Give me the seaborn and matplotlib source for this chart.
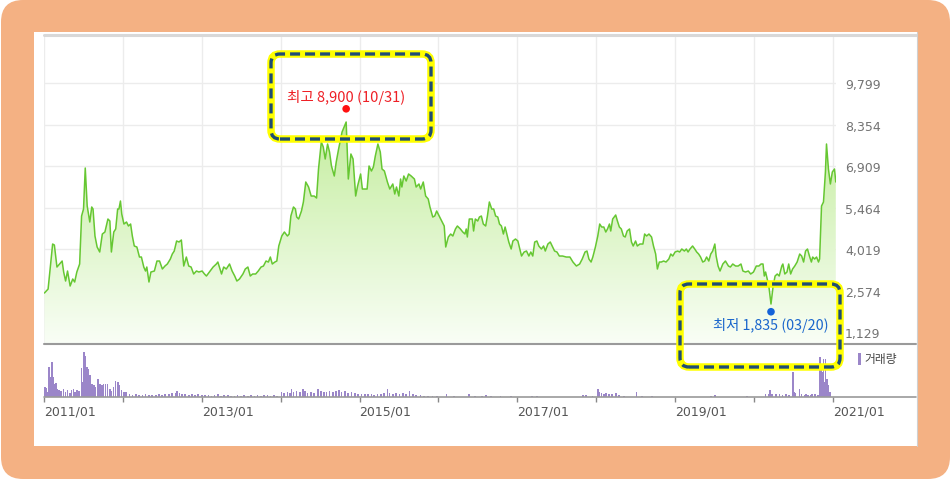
import numpy as np
import pandas as pd
import matplotlib
matplotlib.use("Agg")
import matplotlib.pyplot as plt
import matplotlib.dates as mdates
from matplotlib.patches import Rectangle, FancyBboxPatch
from matplotlib.lines import Line2D
from matplotlib.transforms import IdentityTransform
from matplotlib.colors import LinearSegmentedColormap
import seaborn as sns

# 종가 (주간 근사)
price_dates = [
    "2011-01-03", "2011-01-20", "2011-01-28", "2011-02-10", "2011-02-18", "2011-03-02", "2011-03-14",
    "2011-03-26", "2011-04-02", "2011-04-11", "2011-04-20", "2011-05-02", "2011-05-14", "2011-05-23",
    "2011-06-02", "2011-06-15", "2011-06-24", "2011-07-03", "2011-07-11", "2011-07-20", "2011-08-01",
    "2011-08-10", "2011-08-16", "2011-08-25", "2011-09-04", "2011-09-16", "2011-09-28", "2011-10-10",
    "2011-10-24", "2011-11-02", "2011-11-09", "2011-11-20", "2011-11-29", "2011-12-08", "2011-12-14",
    "2011-12-21", "2011-12-27",
    "2012-01-06", "2012-01-18", "2012-01-27", "2012-02-06", "2012-02-14", "2012-02-23", "2012-03-06",
    "2012-03-18", "2012-03-27", "2012-04-07", "2012-04-15", "2012-04-21", "2012-05-01", "2012-05-10",
    "2012-05-26", "2012-06-07", "2012-06-19", "2012-07-02", "2012-07-14", "2012-07-25", "2012-08-08",
    "2012-08-17", "2012-08-26", "2012-09-06", "2012-09-17", "2012-09-28", "2012-10-09", "2012-10-21",
    "2012-11-01", "2012-11-12", "2012-11-24", "2012-12-07", "2012-12-18",
    "2013-01-02", "2013-01-13", "2013-01-22", "2013-02-08", "2013-02-22", "2013-03-09", "2013-03-16",
    "2013-04-02", "2013-04-12", "2013-04-24", "2013-05-09", "2013-05-21", "2013-06-02", "2013-06-12",
    "2013-06-24", "2013-07-10", "2013-07-21", "2013-08-02", "2013-08-13", "2013-08-24", "2013-09-07",
    "2013-09-19", "2013-10-02", "2013-10-13", "2013-10-25", "2013-11-05", "2013-11-14", "2013-11-23",
    "2013-12-05", "2013-12-14", "2013-12-23",
    "2014-01-06", "2014-01-18", "2014-02-01", "2014-02-09", "2014-02-17", "2014-03-01", "2014-03-10",
    "2014-03-16", "2014-03-25", "2014-04-07", "2014-04-16", "2014-04-27", "2014-05-10", "2014-05-22",
    "2014-06-05", "2014-06-16", "2014-06-25", "2014-07-08", "2014-07-17", "2014-07-26", "2014-08-06",
    "2014-08-15", "2014-08-24", "2014-09-06", "2014-09-15", "2014-09-26", "2014-10-12", "2014-10-31",
    "2014-11-05", "2014-11-10", "2014-11-16", "2014-11-22", "2014-12-02", "2014-12-14", "2014-12-23",
    "2015-01-06", "2015-01-14", "2015-01-25", "2015-02-05", "2015-02-14", "2015-02-25", "2015-03-06",
    "2015-03-15", "2015-03-27", "2015-04-07", "2015-04-15", "2015-04-26", "2015-05-10", "2015-05-21",
    "2015-06-04", "2015-06-13", "2015-06-21", "2015-07-02", "2015-07-10", "2015-07-16", "2015-07-25",
    "2015-08-05", "2015-08-16", "2015-08-28", "2015-09-12", "2015-09-20", "2015-10-03", "2015-10-11",
    "2015-10-23", "2015-11-03", "2015-11-15", "2015-11-23", "2015-12-06", "2015-12-15", "2015-12-24",
    "2016-01-07", "2016-01-19", "2016-01-28", "2016-02-04", "2016-02-16", "2016-02-27", "2016-03-08",
    "2016-03-20", "2016-03-29", "2016-04-12", "2016-04-23", "2016-05-03", "2016-05-09", "2016-05-14",
    "2016-05-23", "2016-06-06", "2016-06-12", "2016-06-20", "2016-07-01", "2016-07-09", "2016-07-18",
    "2016-07-27", "2016-08-07", "2016-08-15", "2016-08-24", "2016-09-04", "2016-09-13", "2016-09-22",
    "2016-10-02", "2016-10-10", "2016-10-19", "2016-10-28", "2016-11-05", "2016-11-13", "2016-11-22",
    "2016-12-03", "2016-12-11", "2016-12-23",
    "2017-01-03", "2017-01-12", "2017-01-20", "2017-02-01", "2017-02-12", "2017-02-23", "2017-03-04",
    "2017-03-13", "2017-03-22", "2017-04-01", "2017-04-10", "2017-04-22", "2017-05-02", "2017-05-10",
    "2017-05-22", "2017-06-02", "2017-06-11", "2017-06-22", "2017-07-03", "2017-07-14", "2017-07-29",
    "2017-08-15", "2017-09-01", "2017-09-15", "2017-10-01", "2017-10-16", "2017-10-28", "2017-11-10",
    "2017-11-19", "2017-11-28", "2017-12-08", "2017-12-16", "2017-12-28",
    "2018-01-08", "2018-01-17", "2018-01-26", "2018-02-05", "2018-02-14", "2018-02-22", "2018-03-03",
    "2018-03-09", "2018-03-18", "2018-04-01", "2018-04-09", "2018-04-18", "2018-04-27", "2018-05-07",
    "2018-05-15", "2018-05-24", "2018-06-04", "2018-06-13", "2018-06-21", "2018-07-02", "2018-07-10",
    "2018-07-22", "2018-08-05", "2018-08-13", "2018-08-22", "2018-09-02", "2018-09-14", "2018-09-23",
    "2018-10-03", "2018-10-11", "2018-10-20", "2018-10-29", "2018-11-09", "2018-11-20", "2018-12-03",
    "2018-12-12", "2018-12-21",
    "2019-01-01", "2019-01-13", "2019-01-22", "2019-02-01", "2019-02-13", "2019-02-22", "2019-03-02",
    "2019-03-11", "2019-03-23", "2019-04-02", "2019-04-11", "2019-04-20", "2019-04-29", "2019-05-09",
    "2019-05-18", "2019-05-27", "2019-06-06", "2019-06-15", "2019-06-24", "2019-07-04", "2019-07-10",
    "2019-07-19", "2019-07-28", "2019-08-10", "2019-08-22", "2019-09-05", "2019-09-14", "2019-09-25",
    "2019-10-08", "2019-10-20", "2019-11-02", "2019-11-11", "2019-11-23", "2019-12-06", "2019-12-17",
    "2019-12-30",
    "2020-01-12", "2020-01-24", "2020-02-03", "2020-02-12", "2020-02-18", "2020-02-24", "2020-03-10",
    "2020-03-20", "2020-03-30", "2020-04-08", "2020-04-18", "2020-04-27", "2020-05-09", "2020-05-14",
    "2020-05-23", "2020-06-02", "2020-06-10", "2020-06-19", "2020-06-28", "2020-07-08", "2020-07-19",
    "2020-07-31", "2020-08-09", "2020-08-18", "2020-08-27", "2020-09-05", "2020-09-14", "2020-09-23",
    "2020-09-29", "2020-10-08", "2020-10-17", "2020-10-26", "2020-10-31", "2020-11-09", "2020-11-18",
    "2020-11-27", "2020-12-02", "2020-12-11", "2020-12-20", "2020-12-29", "2021-01-08", "2021-01-14",
]
price_close = [
    2487, 2626, 3218, 4193, 4158, 3392, 3497, 3601, 3218, 2905, 3253, 2731, 2974, 2870,
    3218, 3497, 5168, 5412, 6839, 5517, 4959, 5482, 5412, 4472, 4089, 3915, 4541, 4611,
    5064, 4994, 3915, 4611, 4716, 5412, 5412, 5690, 5238,
    4889, 4959, 4820, 4889, 4472, 4124, 4089, 3740, 3740, 3392, 3253, 3392, 2870, 3218,
    3253, 3601, 3601, 3323, 3427, 3497, 3671, 3845, 3949, 4298, 4263, 4332, 3427, 3740,
    3427, 3392, 3149, 3253, 3218,
    3253, 3149, 3079, 3253, 3392, 3497, 3566, 3149, 3392, 3323, 3497, 3253, 3079, 2905,
    2974, 3149, 3323, 3392, 3079, 3149, 3149, 3253, 3392, 3427, 3601, 3566, 3740, 3497,
    3566, 3601, 4124,
    4472, 4611, 4472, 4541, 5168, 5482, 5412, 5133, 5064, 5343, 5656, 6352, 6178, 5864,
    5864, 5795, 6805, 7745, 7571, 7153, 7675, 7397, 6909, 6561, 7048, 7501, 8093, 8441,
    7397, 6456, 6909, 7327, 7153, 5864, 6213,
    6631, 6108, 6108, 6108, 6909, 6735, 6874, 7257, 7675, 7397, 6805, 6735, 6352, 6108,
    6283, 5934, 6178, 5864, 6456, 6178, 6561, 6387, 6631, 6561, 6456, 6178, 6283, 6108,
    6352, 5864, 5760, 5482, 5133, 5168, 5343,
    5133, 4959, 4820, 4089, 4437, 4541, 4472, 4716, 4820, 4716, 4611, 4541, 4716, 4437,
    5064, 5064, 4646, 5064, 4994, 5133, 5168, 4889, 4820, 5168, 5656, 5412, 5412, 5168,
    5133, 4889, 4820, 4541, 4785, 4541, 4263, 4019, 4298, 4367,
    4298, 4019, 3775, 3915, 3949, 3775, 3915, 3775, 4263, 4298, 4124, 4019, 4124, 3949,
    4193, 4263, 4124, 3949, 3915, 3775, 3775, 3740, 3740, 3566, 3427, 3497, 3671, 3915,
    3949, 3671, 3566, 3740, 4089,
    4472, 4889, 4785, 4785, 4611, 4716, 4889, 4646, 5064, 5203, 4994, 4785, 4716, 4472,
    4437, 4646, 4716, 4263, 4124, 4298, 4124, 4193, 4193, 4541, 4472, 4541, 4437, 4124,
    3845, 3323, 3566, 3566, 3601, 3566, 3671, 3845, 3775,
    3915, 3949, 3915, 4019, 3949, 4019, 3915, 4019, 4124, 4019, 3915, 3845, 3740, 3566,
    3601, 3740, 3601, 3845, 3949, 4193, 3775, 3427, 3253, 3497, 3601, 3427, 3392, 3497,
    3427, 3427, 3497, 3253, 3218, 3253, 3149, 3218,
    3427, 3427, 3497, 3497, 3079, 3218, 2731, 2104, 2731, 3079, 3149, 3079, 3427, 3497,
    3149, 3218, 3497, 3149, 3323, 3427, 3566, 3845, 3775, 3566, 3949, 4019, 3775, 3566,
    3740, 3671, 3740, 3566, 3671, 5517, 5656, 6700, 7675, 6805, 6283, 6700, 6805, 6352,
]

# 거래량 (상대값)
vol_dates = [
    "2011-01-05", "2011-01-10", "2011-01-17", "2011-01-25", "2011-02-01", "2011-02-07", "2011-02-12",
    "2011-02-18", "2011-02-24", "2011-03-04", "2011-03-13", "2011-03-22", "2011-04-01", "2011-04-11",
    "2011-04-20", "2011-04-30", "2011-05-08", "2011-05-17", "2011-05-26", "2011-06-04", "2011-06-13",
    "2011-06-24", "2011-06-29", "2011-07-06", "2011-07-12", "2011-07-18", "2011-07-24", "2011-08-01",
    "2011-08-10", "2011-08-19", "2011-08-28", "2011-09-08", "2011-09-16", "2011-09-25", "2011-10-04",
    "2011-10-13", "2011-10-22", "2011-11-01", "2011-11-10", "2011-11-19", "2011-11-28", "2011-12-08",
    "2011-12-17", "2011-12-26", "2012-01-05", "2012-01-17",
    "2012-02-01", "2012-02-15", "2012-03-01", "2012-03-15", "2012-04-01", "2012-04-15", "2012-05-01",
    "2012-05-15", "2012-06-01", "2012-06-15", "2012-07-01", "2012-07-15", "2012-08-01", "2012-08-15",
    "2012-09-01", "2012-09-08", "2012-09-20", "2012-10-01", "2012-10-15", "2012-11-01", "2012-11-15",
    "2012-12-01", "2012-12-15",
    "2013-01-01", "2013-01-15", "2013-02-01", "2013-02-15", "2013-03-01", "2013-03-15", "2013-04-01",
    "2013-04-15", "2013-05-01", "2013-05-15", "2013-06-01", "2013-06-15", "2013-07-01", "2013-07-15",
    "2013-08-01", "2013-08-15", "2013-09-01", "2013-09-15", "2013-10-01", "2013-10-15", "2013-11-01",
    "2013-11-15", "2013-12-01", "2013-12-15",
    "2014-01-05", "2014-01-15", "2014-02-01", "2014-02-12", "2014-02-20", "2014-03-01", "2014-03-15",
    "2014-04-01", "2014-04-14", "2014-04-25", "2014-05-05", "2014-05-20", "2014-06-05", "2014-06-24",
    "2014-07-05", "2014-07-20", "2014-08-01", "2014-08-15", "2014-09-01", "2014-09-15", "2014-09-28",
    "2014-10-10", "2014-10-25", "2014-11-10", "2014-11-25", "2014-12-10", "2014-12-25",
    "2015-01-10", "2015-01-25", "2015-02-10", "2015-02-25", "2015-03-10", "2015-03-25", "2015-04-10",
    "2015-04-25", "2015-05-10", "2015-05-20", "2015-06-05", "2015-06-20", "2015-07-05", "2015-07-20",
    "2015-08-05", "2015-08-20", "2015-09-05", "2015-09-20", "2015-10-10", "2015-10-25", "2015-11-15",
    "2015-12-05", "2015-12-25",
    "2016-02-08", "2016-03-15", "2016-05-22", "2016-06-20", "2016-07-20", "2016-08-10", "2016-09-01",
    "2016-10-15", "2016-12-01",
    "2017-03-10", "2017-04-01", "2017-06-01", "2017-08-01", "2017-11-01", "2017-11-15", "2017-12-15",
    "2018-01-08", "2018-01-15", "2018-01-25", "2018-02-05", "2018-02-15", "2018-03-01", "2018-03-15",
    "2018-04-01", "2018-04-15", "2018-05-10", "2018-07-06", "2018-08-01", "2018-09-15", "2018-11-01",
    "2019-02-01", "2019-06-15", "2019-07-05", "2019-09-01", "2019-12-01",
    "2020-02-24", "2020-03-10", "2020-03-16", "2020-03-25", "2020-04-12", "2020-04-28", "2020-05-12",
    "2020-05-28", "2020-06-12", "2020-06-29", "2020-07-05", "2020-07-12", "2020-07-30", "2020-08-08",
    "2020-08-22", "2020-08-30", "2020-09-08", "2020-09-20", "2020-09-26", "2020-10-10", "2020-10-22",
    "2020-11-01", "2020-11-07", "2020-11-12", "2020-11-18", "2020-11-24", "2020-11-28", "2020-12-03",
    "2020-12-09", "2020-12-13", "2020-12-20",
]
vol_values = [
    1000, 900, 500, 3000, 2000, 3500, 2000, 1300, 1400, 800, 700, 600, 800, 500,
    700, 400, 700, 800, 500, 700, 600, 2900, 1500, 4500, 4100, 3000, 2800, 2200,
    1300, 1200, 1000, 1800, 1300, 1200, 1300, 1300, 1300, 800, 600, 1000, 1600, 1500,
    1200, 700, 500, 500,
    300, 250, 300, 200, 250, 300, 250, 200, 250, 300, 250, 300, 350, 400,
    450, 650, 400, 300, 350, 250, 300, 250, 300,
    200, 250, 200, 150, 200, 300, 150, 250, 200, 150, 100, 200, 150, 200,
    150, 200, 150, 200, 150, 200, 200, 150, 200, 150,
    500, 400, 500, 400, 800, 500, 600, 500, 800, 600, 400, 500, 400, 800,
    600, 500, 500, 600, 500, 600, 700, 500, 600, 400, 500, 400, 300,
    300, 350, 300, 300, 250, 350, 300, 400, 800, 400, 350, 400, 350, 450,
    350, 600, 300, 250, 200, 150, 150, 100, 150,
    300, 100, 300, 100, 150, 200, 150, 100, 100,
    100, 100, 50, 50, 200, 200, 100,
    800, 500, 400, 350, 400, 350, 300, 400, 250, 150, 500, 100, 100, 50,
    50, 150, 200, 50, 100,
    300, 300, 700, 300, 350, 300, 250, 300, 250, 2500, 500, 400, 800, 300,
    250, 300, 250, 200, 350, 300, 250, 4000, 3000, 2500, 3800, 1500, 3800, 1800,
    1200, 500, 500,
]

y_ticks = [1129, 2574, 4019, 5464, 6909, 8354, 9799]
year_ticks = ["2011-01-01", "2012-01-01", "2013-01-01", "2014-01-01", "2015-01-01", "2016-01-01",
              "2017-01-01", "2018-01-01", "2019-01-01", "2020-01-01", "2021-01-01"]
year_labels = ["2011/01", "", "2013/01", "", "2015/01", "", "2017/01", "", "2019/01", "", "2021/01"]

hi_date, hi_val, hi_text = "2014-10-31", 8900, "최고 8,900 (10/31)"
lo_date, lo_val, lo_text = "2020-03-20", 1835, "최저 1,835 (03/20)"

sns.set_theme(style="white")
plt.rcParams['font.family'] = ['DejaVu Sans']
plt.rcParams['lines.scale_dashes'] = False
KR = ['Noto Sans CJK KR', 'DejaVu Sans']

W, H = 951, 481
fig = plt.figure(figsize=(W / 100, H / 100), dpi=100, facecolor='white')
px = IdentityTransform()


def fy(y):
    return H - y


# 배경 (주황 테두리 + 흰 패널)
fig.add_artist(FancyBboxPatch((1, 1), W - 2, H - 2, boxstyle="round,pad=0,rounding_size=22",
                              transform=px, fc='#f4b183', ec='none', zorder=-10))
fig.add_artist(Rectangle((34, fy(447)), 883, 414, transform=px, fc='white', ec='none', zorder=-9))

ax = fig.add_axes([44 / W, 1 - 345 / H, 792 / W, 309 / H])
axv = fig.add_axes([44 / W, 1 - 398 / H, 792 / W, 51 / H])
for a in (ax, axv):
    a.set_facecolor('none')
    for s in a.spines.values():
        s.set_visible(False)

df = pd.DataFrame({'date': pd.to_datetime(price_dates), 'close': price_close})
sns.lineplot(data=df, x='date', y='close', ax=ax, color='#66c732', lw=1.1, zorder=3)

ymin, ymax = 712, 11470
xmin, xmax = pd.Timestamp("2011-01-01"), pd.Timestamp("2021-01-15")

# 그라데이션 채우기
xs = mdates.date2num(df['date'])
poly = ax.fill_between(xs, df['close'], ymin, color='none', lw=0)
grad = np.linspace(0, 1, 256).reshape(-1, 1)
cmap = LinearSegmentedColormap.from_list('fillg', ['#f9fef6', '#c4ed9e'])
im = ax.imshow(grad, extent=[xs.min(), xs.max(), ymin, 8500], origin='lower',
               aspect='auto', cmap=cmap, zorder=1)
im.set_clip_path(poly.get_paths()[0], transform=ax.transData)

ax.set_xlim(xmin, xmax)
ax.set_ylim(ymin, ymax)
ax.set_xticks(pd.to_datetime(year_ticks))
ax.set_yticks(y_ticks)
ax.set_yticklabels([f"{v:,}" for v in y_ticks])
ax.yaxis.tick_right()
ax.tick_params(axis='x', labelbottom=False, length=0)
ax.tick_params(axis='y', length=0, pad=6.5, labelsize=9, labelcolor='#737373')
ax.grid(True, color='#ececec', lw=1)
ax.set_axisbelow(True)
ax.set_xlabel('')
ax.set_ylabel('')

# 최고/최저 표시
hx = mdates.date2num(pd.Timestamp(hi_date))
lx = mdates.date2num(pd.Timestamp(lo_date))
ax.scatter([hx], [hi_val], s=30, color='#ff1010', edgecolor='none', zorder=5)
ax.scatter([lx], [lo_val], s=30, color='#1463d9', edgecolor='none', zorder=5)
ax.annotate(hi_text, (hx, hi_val), xytext=(0, 8.6), textcoords='offset points', ha='center',
            va='center', color='#ee2026', fontsize=10.5, family=KR)
ax.annotate(lo_text, (lx, lo_val), xytext=(0, -9.4), textcoords='offset points', ha='center',
            va='center', color='#1a66cc', fontsize=10.3, family=KR)

# 거래량
axv.bar(pd.to_datetime(vol_dates), vol_values, width=8, color='#9b86c9', lw=0)
axv.set_xlim(xmin, xmax)
axv.set_ylim(0, 5100)
axv.set_yticks([])
axv.set_xticks(pd.to_datetime(year_ticks), year_labels)
axv.tick_params(axis='x', direction='out', length=3.6, width=1, color='#888888',
                labelsize=9, labelcolor='#555555', pad=2, bottom=True)
for lbl in axv.get_xticklabels():
    lbl.set_ha('left')
axv.grid(False)

# 구분선
fig.add_artist(Line2D([44, 916], [fy(35.5)] * 2, transform=px, color='#d8d8d8', lw=2.2, zorder=2))
fig.add_artist(Line2D([44, 916], [fy(345)] * 2, transform=px, color='#9a9a9a', lw=1.5, zorder=2))
fig.add_artist(Line2D([44, 916], [fy(398)] * 2, transform=px, color='#9a9a9a', lw=1.2, zorder=2))
fig.add_artist(Line2D([917, 917], [fy(33), fy(447)], transform=px, color='#d0d0d0', lw=0.8, zorder=2))

# 범례
fig.add_artist(Rectangle((858, fy(366)), 3, 12, transform=px, fc='#9b86c9', ec='none', zorder=3))
fig.text(864 / W, 1 - 360 / H, '거래량', fontsize=8.5, color='#444444', va='center', ha='left', family=KR)

# 강조 박스
for x0, y0, x1, y1 in [(271, 55, 431, 140), (680, 285, 840, 368)]:
    fig.add_artist(FancyBboxPatch((x0, fy(y1)), x1 - x0, y1 - y0, boxstyle="round,pad=0,rounding_size=9",
                                  transform=px, fill=False, ec='#ffff00', lw=5.4, zorder=5))
    fig.add_artist(FancyBboxPatch((x0, fy(y1)), x1 - x0, y1 - y0, boxstyle="round,pad=0,rounding_size=9",
                                  transform=px, fill=False, ec='#1f4d74', lw=2.4,
                                  ls=(0, (7.2, 3.6)), zorder=6))

fig.savefig('out.png', dpi=100)
